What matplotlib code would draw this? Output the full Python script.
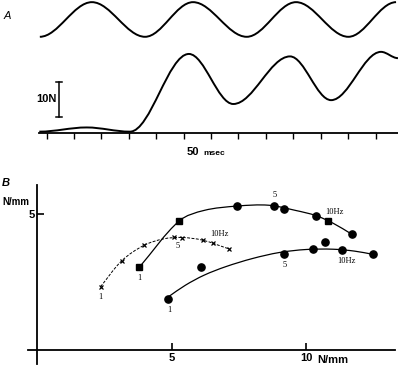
import matplotlib
matplotlib.use("Agg")
import matplotlib.pyplot as plt
from matplotlib.path import Path
from matplotlib.patches import PathPatch
import numpy as np

# ---- panel A : stimulus and force traces (extrema) ----
stim_t  = [-2.5, 16.5, 35.9, 53.4, 73.0, 91.0, 110.1, 127.5]      # msec
stim_y  = [27.4, 37.3, 27.4, 37.3, 27.4, 37.3, 27.4, 37.3]         # offset, N units
force_t = [-2.7, 14.6, 30.4, 51.9, 68.1, 88.8, 103.8, 122.0, 128.2]
force_y = [0.3, 1.5, 0.3, 22.5, 8.2, 21.8, 9.3, 23.1, 21.3]       # N
time_ticks = [0, 10, 20, 30, 40, 50, 60, 70, 80, 90, 100, 110, 120]
scale_bar = [4.6, 14.6]   # 10 N bar

# ---- panel B : stiffness, N/mm ----
cross_x = [2.35, 3.14, 3.96, 5.08, 5.37, 6.15, 6.52, 7.13]
cross_y = [2.33, 3.28, 3.84, 4.14, 4.11, 4.04, 3.92, 3.71]
cross_fit_x = [2.35, 3.14, 3.96, 4.70, 5.37, 6.15, 7.13]
cross_fit_y = [2.33, 3.28, 3.84, 4.08, 4.13, 4.03, 3.71]

upper_x = [3.79, 5.28, 7.44, 8.81, 9.18, 10.36, 10.80, 11.69]
upper_y = [3.04, 4.74, 5.28, 5.28, 5.17, 4.92, 4.73, 4.25]
upper_sq = [0, 1, 6]          # points drawn as squares
upper_fit_x = [3.79, 5.28, 6.20, 7.44, 8.60, 9.60, 10.36, 11.00, 11.69]
upper_fit_y = [3.04, 4.74, 5.12, 5.28, 5.31, 5.12, 4.93, 4.65, 4.25]

lower_x = [4.87, 6.08, 9.18, 10.26, 10.70, 11.32, 12.49]
lower_y = [1.87, 3.04, 3.51, 3.70, 3.98, 3.67, 3.51]
lower_fit_x = [4.86, 5.50, 6.20, 7.00, 8.00, 9.00, 10.00, 11.00, 11.80, 12.49]
lower_fit_y = [1.95, 2.38, 2.75, 3.06, 3.36, 3.58, 3.69, 3.70, 3.63, 3.51]

labels_cross = [("1", 2.36, 1.95), ("5", 5.23, 3.82), ("10Hz", 6.78, 4.25)]
labels_upper = [("1", 3.78, 2.65), ("5", 8.84, 5.68), ("10Hz", 11.03, 5.06)]
labels_lower = [("1", 4.89, 1.48), ("5", 9.21, 3.12), ("10Hz", 11.48, 3.27)]


def wave_path(ts, ys, k=0.35):
    # cubic segments with flat tangents at every knot (knots are extrema)
    verts = [(ts[0], ys[0])]
    codes = [Path.MOVETO]
    for i in range(1, len(ts)):
        d = (ts[i] - ts[i-1]) * k
        verts += [(ts[i-1] + d, ys[i-1]), (ts[i] - d, ys[i]), (ts[i], ys[i])]
        codes += [Path.CURVE4] * 3
    return Path(verts, codes)


def smooth_path(xs, ys):
    # cubic through the read points, tangents scaled by chord length
    p = np.column_stack([xs, ys])
    n = len(p)
    t = np.concatenate([[0], np.cumsum(np.hypot(*np.diff(p, axis=0).T))])
    m = np.zeros_like(p)
    m[0] = (p[1] - p[0]) / (t[1] - t[0])
    m[-1] = (p[-1] - p[-2]) / (t[-1] - t[-2])
    for i in range(1, n - 1):
        m[i] = (p[i+1] - p[i-1]) / (t[i+1] - t[i-1])
    verts = [p[0]]
    codes = [Path.MOVETO]
    for i in range(n - 1):
        h = (t[i+1] - t[i]) / 3
        verts += [p[i] + m[i]*h, p[i+1] - m[i+1]*h, p[i+1]]
        codes += [Path.CURVE4] * 3
    return Path(verts, codes)


sans = "Liberation Sans"
serif = "Liberation Serif"

fig = plt.figure(figsize=(3.98, 3.66), dpi=100)
fig.patch.set_facecolor("white")

# panel A
axA = fig.add_axes([30/398, 1-162/366, 368/398, 163/366])
axA.set_xlim(-6.09, 128.21)
axA.set_ylim(-8.37, 38.2)
axA.axis("off")
axA.add_patch(PathPatch(wave_path(stim_t, stim_y), fill=False, ec="k", lw=1.4, clip_on=False))
axA.add_patch(PathPatch(wave_path(force_t, force_y), fill=False, ec="k", lw=1.4, clip_on=False))
axA.plot([-2.9, 128.2], [0, 0], "k-", lw=1.3, clip_on=False)
axA.vlines(time_ticks, -1.8, 0, colors="k", lw=1.0)
axA.plot([4.6, 4.6], scale_bar, "k-", lw=1.1)
axA.plot([3.5, 5.7], [scale_bar[0]]*2, "k-", lw=1.1)
axA.plot([3.5, 5.7], [scale_bar[1]]*2, "k-", lw=1.1)
axA.text(3.6, 9.6, "10N", ha="right", va="center", fontsize=8, fontweight="bold", family=sans)
axA.text(51.1, -6.4, "50", ha="left", va="baseline", fontsize=8, fontweight="bold", family=sans)
axA.text(57.0, -6.4, "msec", ha="left", va="baseline", fontsize=6, fontweight="bold", family=sans)

# panel B
axB = fig.add_axes([28/398, 1-364/366, 367/398, 179/366])
axB.set_xlim(-0.35, 13.3)
axB.set_ylim(-0.5, 6.05)
axB.set_facecolor("none")
axB.spines["top"].set_visible(False)
axB.spines["right"].set_visible(False)
axB.spines["left"].set_position(("data", 0))
axB.spines["bottom"].set_position(("data", 0))
axB.spines["left"].set_linewidth(1.3)
axB.spines["bottom"].set_linewidth(1.3)
axB.set_xticks([5, 10])
axB.set_xticklabels(["5", "10"])
axB.set_yticks([5])
axB.set_yticklabels(["5"])
axB.tick_params(direction="in", length=5, width=1.2, pad=2, labelsize=8)
for t in axB.get_xticklabels() + axB.get_yticklabels():
    t.set_family(sans)
    t.set_fontweight("bold")
axB.text(10.42, -0.17, "N/mm", ha="left", va="top", fontsize=8, fontweight="bold", family=sans)

axB.add_patch(PathPatch(smooth_path(cross_fit_x, cross_fit_y), fill=False, ec="k", lw=0.7, ls=(0, (3, 1.5))))
axB.add_patch(PathPatch(smooth_path(upper_fit_x, upper_fit_y), fill=False, ec="k", lw=0.9))
axB.add_patch(PathPatch(smooth_path(lower_fit_x, lower_fit_y), fill=False, ec="k", lw=0.9))

axB.plot(cross_x, cross_y, "kx", ms=3.2, mew=0.9, ls="none")
sq = [i for i in range(len(upper_x)) if i in upper_sq]
ci = [i for i in range(len(upper_x)) if i not in upper_sq]
axB.plot([upper_x[i] for i in sq], [upper_y[i] for i in sq], "ks", ms=4.8, ls="none")
axB.plot([upper_x[i] for i in ci], [upper_y[i] for i in ci], "ko", ms=5.2, ls="none")
axB.plot(lower_x, lower_y, "ko", ms=5.2, ls="none")

for lab, x, y in labels_cross + labels_upper + labels_lower:
    axB.text(x, y, lab, ha="center", va="center", fontsize=6, family=serif)

fig.text(7/398, 1-16/366, "A", ha="center", va="center", fontsize=8, style="italic", family=sans)
fig.text(6/398, 1-183/366, "B", ha="center", va="center", fontsize=8, style="italic", fontweight="bold", family=sans)
fig.text(2/398, 1-202/366, "N/mm", ha="left", va="center", fontsize=7, fontweight="bold", family=sans)

fig.savefig("out.png", dpi=100, facecolor="white")
